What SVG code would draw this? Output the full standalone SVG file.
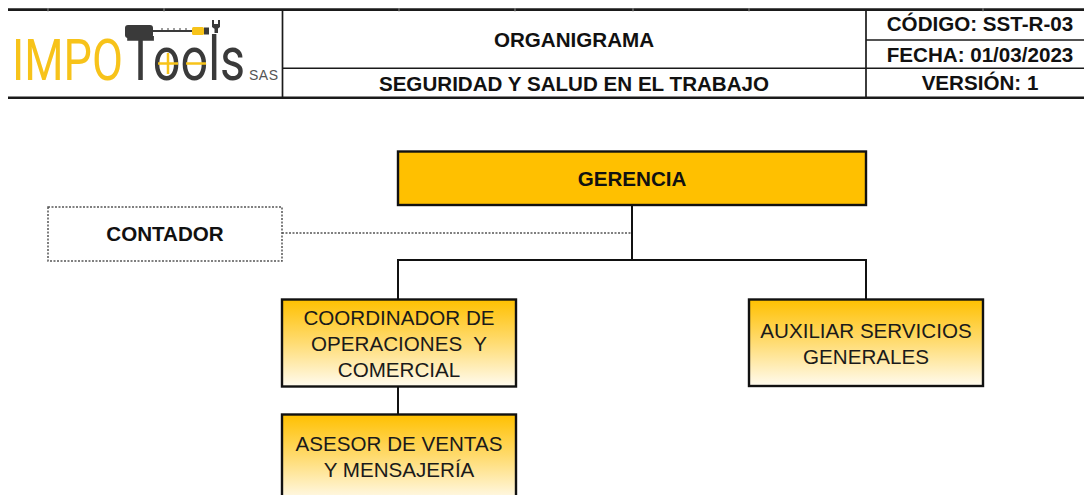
<svg xmlns="http://www.w3.org/2000/svg" width="1084" height="495" viewBox="0 0 1084 495">
<style>
.hb{font-family:"Liberation Sans",Arial,sans-serif;font-weight:bold;font-size:20.6px;fill:#111;text-anchor:middle}
.nr{font-family:"Liberation Sans",Arial,sans-serif;font-size:20.6px;fill:#1a1a1a;text-anchor:middle}
.grid{stroke:#1a1a1a;fill:none}
.box{stroke:#111;stroke-width:2.4}
.conn{stroke:#111;stroke-width:2;fill:none}
.dot{stroke:#555;stroke-width:1.5;stroke-dasharray:2 1.5;fill:none}
.dk{fill:#3a3a3a}
.lg{font-family:Roboto,"Open Sans",Lato,sans-serif;font-weight:400}
</style>
<defs>
<linearGradient id="gy" x1="0" y1="0" x2="0" y2="1">
<stop offset="0" stop-color="#FFC000"/>
<stop offset="0.5" stop-color="#FFDC73"/>
<stop offset="1" stop-color="#FFFBEF"/>
</linearGradient>
</defs>
<rect x="0" y="0" width="1084" height="495" fill="#fff"/>

<g id="header">
<line class="grid" x1="8" y1="9.6" x2="1084" y2="9.6" stroke-width="2.6"/>
<g stroke="#8a8a8a" stroke-width="1">
<line x1="48" y1="8" x2="48" y2="11.5"/><line x1="164" y1="8" x2="164" y2="11.5"/><line x1="399" y1="8" x2="399" y2="11.5"/><line x1="515" y1="8" x2="515" y2="11.5"/><line x1="633" y1="8" x2="633" y2="11.5"/><line x1="749" y1="8" x2="749" y2="11.5"/><line x1="983" y1="8" x2="983" y2="11.5"/>
</g>
<line class="grid" x1="8" y1="97.8" x2="1084" y2="97.8" stroke-width="2.4"/>
<line class="grid" x1="282.5" y1="11" x2="282.5" y2="97" stroke-width="1.7"/>
<line class="grid" x1="866" y1="11" x2="866" y2="97" stroke-width="1.7"/>
<line class="grid" x1="282" y1="68.3" x2="1084" y2="68.3" stroke-width="1.6"/>
<line class="grid" x1="866" y1="40" x2="1084" y2="40" stroke-width="1.6"/>
<text class="hb" x="574" y="47">ORGANIGRAMA</text>
<text class="hb" x="574" y="91">SEGURIDAD Y SALUD EN EL TRABAJO</text>
<text class="hb" x="980" y="31">CÓDIGO: SST-R-03</text>
<text class="hb" x="980" y="62">FECHA: 01/03/2023</text>
<text class="hb" x="980" y="90">VERSIÓN: 1</text>
</g>

<g id="logo">
<text class="lg" transform="translate(12,80) scale(0.79,1)" font-size="57" fill="#F7C31A">IMPO</text>
<text class="lg" transform="translate(126,80) scale(0.785,1)" font-size="62" fill="#3a3a3a">Tools</text>
<rect class="dk" x="125" y="25" width="28" height="13" rx="3"/>
<rect class="dk" x="136" y="37" width="6" height="3"/>
<line x1="153" y1="31" x2="192" y2="31" stroke="#3a3a3a" stroke-width="2"/>
<g stroke="#3a3a3a" stroke-width="1"><line x1="162" y1="28" x2="162" y2="31"/><line x1="168" y1="28" x2="168" y2="31"/><line x1="174" y1="28" x2="174" y2="31"/><line x1="180" y1="28" x2="180" y2="31"/><line x1="186" y1="28" x2="186" y2="31"/></g>
<rect x="192" y="27" width="12" height="8" rx="1.5" fill="#F7C31A"/>
<rect class="dk" x="204" y="27.5" width="5" height="7"/>
<path class="dk" d="M212 20 L212 27 Q216 31 220 27 L220 20 L218 20 L218 24 L214 24 L214 20 Z"/>
<rect class="dk" x="214.5" y="28" width="3.5" height="5"/>
<g stroke="#F7C31A" stroke-width="2.5">
<line x1="158" y1="63.5" x2="178" y2="63.5"/><line x1="168" y1="53" x2="168" y2="74"/>
<line x1="186" y1="63.5" x2="206" y2="63.5"/>
</g>
<text x="249" y="80" font-family="'Liberation Sans',Arial,sans-serif" font-size="14" fill="#555" letter-spacing="0.5">SAS</text>
</g>

<g id="connectors">
<line class="conn" x1="632" y1="205" x2="632" y2="260"/>
<line class="conn" x1="397" y1="260" x2="867" y2="260"/>
<line class="conn" x1="398" y1="260" x2="398" y2="299"/>
<line class="conn" x1="866" y1="260" x2="866" y2="299"/>
<line class="conn" x1="398" y1="387" x2="398" y2="414"/>
<line class="dot" x1="282" y1="233" x2="631" y2="233"/>
</g>

<g id="gerencia">
<rect class="box" x="398" y="151.5" width="468" height="53.5" fill="#FFC000"/>
<text class="hb" x="632" y="185.5">GERENCIA</text>
</g>

<g id="contador">
<rect class="dot" x="48" y="207" width="234" height="54" fill="#fff"/>
<text class="hb" x="165" y="240.5">CONTADOR</text>
</g>

<g id="coordinador">
<rect class="box" x="282" y="299.5" width="234" height="87" fill="url(#gy)"/>
<text class="nr" x="399" y="325">COORDINADOR DE</text>
<text class="nr" x="399" y="351" xml:space="preserve">OPERACIONES  Y</text>
<text class="nr" x="399" y="377">COMERCIAL</text>
</g>

<g id="auxiliar">
<rect class="box" x="749" y="299.5" width="234" height="86.5" fill="url(#gy)"/>
<text class="nr" x="866" y="337.5">AUXILIAR SERVICIOS</text>
<text class="nr" x="866" y="363.5">GENERALES</text>
</g>

<g id="asesor">
<rect class="box" x="282" y="414.5" width="234" height="87" fill="url(#gy)"/>
<text class="nr" x="399" y="451">ASESOR DE VENTAS</text>
<text class="nr" x="399" y="477">Y MENSAJERÍA</text>
</g>
</svg>
